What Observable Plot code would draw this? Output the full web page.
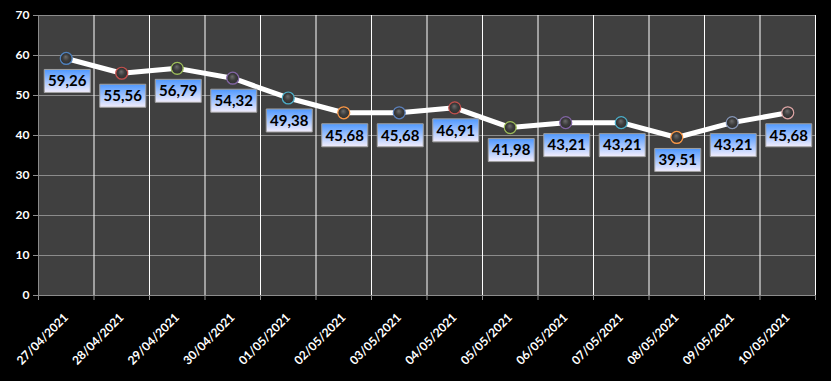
<!DOCTYPE html>
<html>
<head>
<meta charset="utf-8">
<script src="https://cdn.jsdelivr.net/npm/d3@7"></script>
<script src="https://cdn.jsdelivr.net/npm/@observablehq/plot@0.6"></script>
<style>
  html, body { margin: 0; padding: 0; background: #000; }
</style>
</head>
<body>
<div id="chart"></div>
<script>
const dates = ["27/04/2021","28/04/2021","29/04/2021","30/04/2021","01/05/2021","02/05/2021","03/05/2021","04/05/2021","05/05/2021","06/05/2021","07/05/2021","08/05/2021","09/05/2021","10/05/2021"];
const values = [59.26, 55.56, 56.79, 54.32, 49.38, 45.68, 45.68, 46.91, 41.98, 43.21, 43.21, 39.51, 43.21, 45.68];
const markerColors = ["#4f81bd","#c0504d","#9bbb59","#8064a2","#4bacc6","#f79646","#5b7fb8","#c0504d","#9bbb59","#8064a2","#4bacc6","#f79646","#8494b4","#d9a3a3"];
const yTicks = [0, 10, 20, 30, 40, 50, 60, 70];

const data = dates.map((d, i) => ({i, date: d, value: values[i], color: markerColors[i]}));
const centers = d3.range(dates.length);
const boundaries = d3.range(dates.length + 1).map(k => k - 0.5);

const boxSymbol = {
  draw(ctx, size) { ctx.rect(-22, 11, 46, 23); }
};

const chart = Plot.plot({
  width: 831, height: 381,
  marginLeft: 38, marginRight: 16, marginTop: 15, marginBottom: 86,
  style: {background: "#000", color: "#fff", fontFamily: "Lato, 'Open Sans', sans-serif", overflow: "visible"},
  x: {type: "linear", domain: [-0.5, dates.length - 0.5], axis: null},
  y: {domain: [0, 70], axis: null},
  marks: [
    Plot.frame({fill: "#404040", stroke: null}),
    Plot.ruleY(yTicks.slice(1), {stroke: "#8c8c8c", strokeWidth: 1}),
    Plot.ruleX(boundaries.slice(1), {stroke: "#ffffff", strokeWidth: 1}),
    Plot.ruleY([0], {stroke: "#8c8c8c", strokeWidth: 1}),
    Plot.ruleX([-0.5], {stroke: "#8c8c8c", strokeWidth: 1}),
    Plot.axisY({ticks: yTicks, tickSize: 5, label: null, stroke: "#8c8c8c", fill: "#fff", fontWeight: "bold", fontSize: 12, tickPadding: 4}),
    Plot.axisX({ticks: boundaries, tickSize: 5, label: null, tickFormat: () => "", stroke: "#8c8c8c"}),
    Plot.axisX({ticks: centers, tickSize: 0, label: null, tickFormat: i => dates[i], tickRotate: -45, textAnchor: "end", fill: "#fff", fontWeight: "bold", fontSize: 12, tickPadding: 20}),
    Plot.line(data, {x: "i", y: "value", stroke: "#ffffff", strokeWidth: 5}),
    Plot.dot(data, {x: "i", y: "value", r: 6, fill: "#444", stroke: "color", strokeWidth: 1.2}),
    Plot.dot(data, {x: "i", y: "value", symbol: boxSymbol, r: 1, fill: "#8ec0ff", stroke: "#a0a0a0", strokeWidth: 1}),
    Plot.text(data, {x: "i", y: "value", text: d => d.value.toFixed(2).replace(".", ","), dx: 1, dy: 23, fontWeight: "bold", fontSize: 15, fill: "#000"})
  ]
});

document.getElementById("chart").appendChild(chart);

// gradients
const ns = "http://www.w3.org/2000/svg";
const defs = document.createElementNS(ns, "defs");
const lg = document.createElementNS(ns, "linearGradient");
lg.setAttribute("id", "lblgrad");
lg.setAttribute("x1", "0"); lg.setAttribute("y1", "0"); lg.setAttribute("x2", "0"); lg.setAttribute("y2", "1");
[["0%", "#4e98ff"], ["100%", "#f4eefc"]].forEach(([o, c]) => {
  const s = document.createElementNS(ns, "stop");
  s.setAttribute("offset", o); s.setAttribute("stop-color", c); lg.appendChild(s);
});
defs.appendChild(lg);
markerColors.forEach((c, k) => {
  const rg = document.createElementNS(ns, "radialGradient");
  rg.setAttribute("id", "mk" + k);
  rg.setAttribute("cx", "0.5"); rg.setAttribute("cy", "0.5"); rg.setAttribute("r", "0.5");
  rg.setAttribute("fx", "0.45"); rg.setAttribute("fy", "0.35");
  [["0%", "#6e6e6e"], ["55%", "#3c3c3c"], ["85%", "#333"], ["100%", c]].forEach(([o, col]) => {
    const s = document.createElementNS(ns, "stop");
    s.setAttribute("offset", o); s.setAttribute("stop-color", col); rg.appendChild(s);
  });
  defs.appendChild(rg);
});
chart.insertBefore(defs, chart.firstChild);

const dotGroups = chart.querySelectorAll('g[aria-label="dot"]');
if (dotGroups[0]) {
  dotGroups[0].querySelectorAll("circle").forEach((el, k) => el.setAttribute("fill", `url(#mk${k})`));
}
if (dotGroups[1]) {
  dotGroups[1].setAttribute("fill", "url(#lblgrad)");
  dotGroups[1].querySelectorAll("path").forEach(el => el.removeAttribute("fill"));
}
</script>
</body>
</html>
